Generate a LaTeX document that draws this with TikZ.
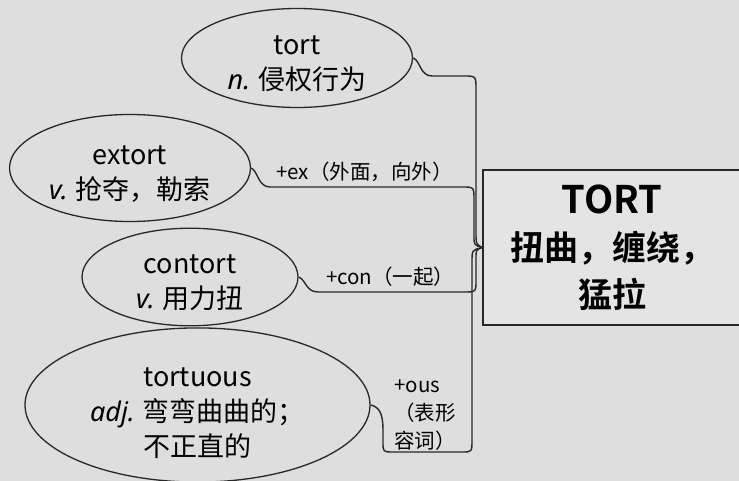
\documentclass[tikz,border=0pt]{standalone}
\usepackage{fontspec}
\setmainfont{Noto Sans CJK SC}[BoldFont={Noto Sans CJK SC Bold}]
\newfontfamily\latinit{Noto Sans}
\usepackage{xcolor}
\usetikzlibrary{shapes.geometric}

\definecolor{paper}{RGB}{222,222,222}
\definecolor{boxpaper}{RGB}{228,228,228}
\definecolor{ink}{RGB}{40,40,40}

\newcommand{\pos}[1]{{\latinit\itshape #1}}

\begin{document}
\begin{tikzpicture}[x=1pt, y=-1pt]
        % Style definitions
        \tikzset{
            word/.style={ellipse, draw=ink, line width=1.3pt, inner sep=0pt, align=center,
                text height=66pt, text depth=3pt, font=\fontsize{27}{35}\selectfont},
            branch/.style={ink, line width=1.4pt},
            gloss/.style={inner sep=0pt, align=left, anchor=west, font=\fontsize{20.5}{28}\selectfont},
            rootbox/.style={draw=ink, fill=boxpaper, line width=1.8pt, minimum width=258pt,
                minimum height=155pt, inner sep=0pt, align=center,
                font=\fontsize{34}{47}\selectfont\bfseries}
        }

        % canvas
        \fill[paper] (0,0) rectangle (739,481);
        \useasboundingbox (0,0) rectangle (739,481);
        \clip (0,0) rectangle (739,481);

        % ==========================================
        % ROOT BOX (right side runs off the page)
        % ==========================================

        \node[rootbox] (root) at (612,247.5) {{\fontsize{38}{47}\selectfont TORT}\\扭曲，缠绕，\\猛拉};

        % ==========================================
        % DERIVED WORDS
        % ==========================================

        \node[word, minimum width=231pt, minimum height=99pt] (tort) at (297,58) {tort\\\pos{n.} 侵权行为};
        \node[word, minimum width=241pt, minimum height=107pt] (extort) at (130,168) {extort\\\pos{v.} 抢夺，勒索};
        \node[word, minimum width=216pt, minimum height=96pt] (contort) at (190,277) {contort\\\pos{v.} 用力扭};
        \node[word, minimum width=345pt, minimum height=150pt, text height=106pt] (tortuous) at (197.5,405)
            {tortuous\\\pos{adj.} 弯弯曲曲的；\\不正直的};

        % ==========================================
        % BRANCHES INTO THE ROOT
        % ==========================================

        \draw[branch] (tort.east) .. controls (420,60) and (420,76) .. (432,76) -- (464,76)
            .. controls (476,76) .. (476,90) -- (476,232) .. controls (476,244) .. (root.west);
        \draw[branch] (extort.east) .. controls (258,171) and (258,187) .. (270,187) -- (462,187)
            .. controls (474,187) .. (474,200) -- (474,236) .. controls (474,245) .. (root.west);
        \draw[branch] (contort.east) .. controls (306,280) and (306,292) .. (318,292) -- (464,292)
            .. controls (476,292) .. (476,280) -- (476,258) .. controls (476,250) .. (root.west);
        \draw[branch] (tortuous.east) .. controls (380,407) and (383,415) .. (383,430) -- (383,442)
            .. controls (383,452) .. (393,452) -- (462,452) .. controls (472,452) .. (472,440)
            -- (472,262) .. controls (472,250) .. (root.west);

        % prefix / suffix glosses
        \node[gloss] (exgloss) at (276,172) {+ex（外面，向外）};
        \node[gloss] (congloss) at (326,277) {+con（一起）};
        \node[gloss] (ousgloss) at (394,415) {+ous\\（表形\\容词）};
    \end{tikzpicture}
\end{document}
